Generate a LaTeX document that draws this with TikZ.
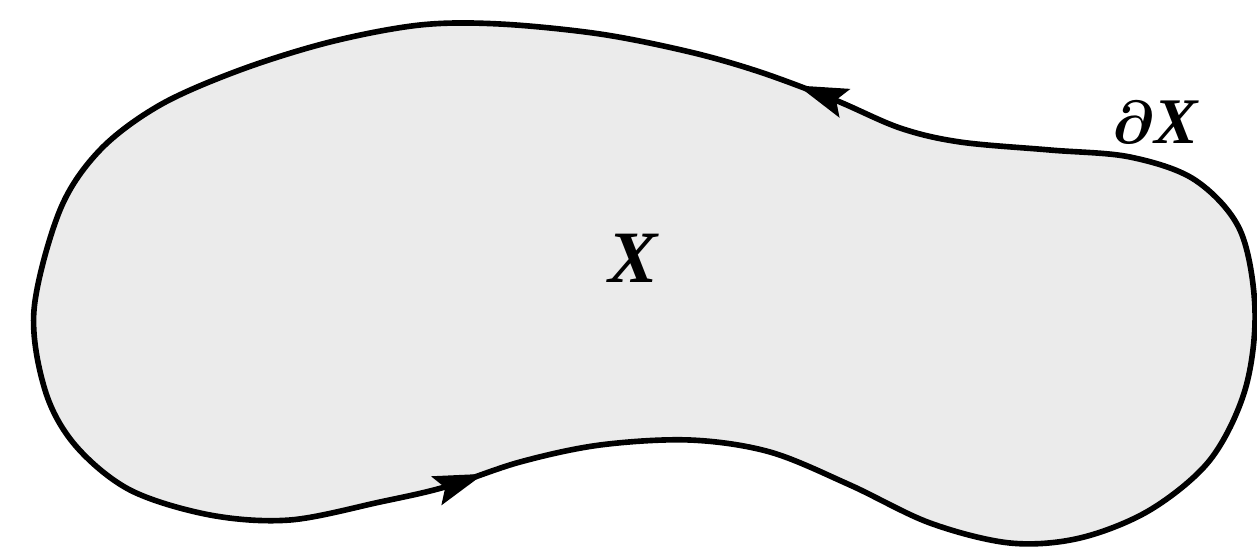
\documentclass[tikz,border=0pt]{standalone}
\usepackage{fontspec}
\newfontfamily\lbs{Liberation Serif}
\usetikzlibrary{arrows.meta,decorations.markings}
\tikzset{
  region/.style={fill=black!8, draw=black, line width=1.6pt, line join=round},
  orient/.style={postaction={decorate}, decoration={markings,
     mark=at position 0.167 with {\arrow{Stealth[length=5mm,width=3mm,inset=0.9mm]}},
     mark=at position 0.668 with {\arrow{Stealth[length=5mm,width=3mm,inset=0.9mm]}}}},
  lbl/.style={font=\lbs\bfseries\itshape, inner sep=0pt}
}
\begin{document}
\begin{tikzpicture}[x=0.01cm, y=-0.01cm]
\useasboundingbox (0,0) rectangle (1257,548);
\draw[region, orient] plot[smooth cycle, tension=0.55] coordinates {
(34,310) (45,390) (75,445) (130,490) (210,515) (290,520) (380,502) (445,487)
(520,462) (600,445) (690,440) (770,452) (850,485) (930,523) (1010,543) (1080,538)
(1150,510) (1210,460) (1245,390) (1255,310) (1240,230) (1195,180) (1130,157) (1050,150)
(960,142) (900,128) (835,100) (760,72) (690,52) (600,34) (500,24) (420,25)
(330,42) (240,70) (160,105) (100,150) (60,210)};
\node[lbl, font=\lbs\bfseries\itshape\fontsize{21}{24}\selectfont] (X) at (633,258) {X};
\node[lbl, font=\lbs\bfseries\itshape\fontsize{18.5}{22}\selectfont] (dX) at (1155,122) {{\boldmath$\partial$}X};
\end{tikzpicture}
\end{document}
